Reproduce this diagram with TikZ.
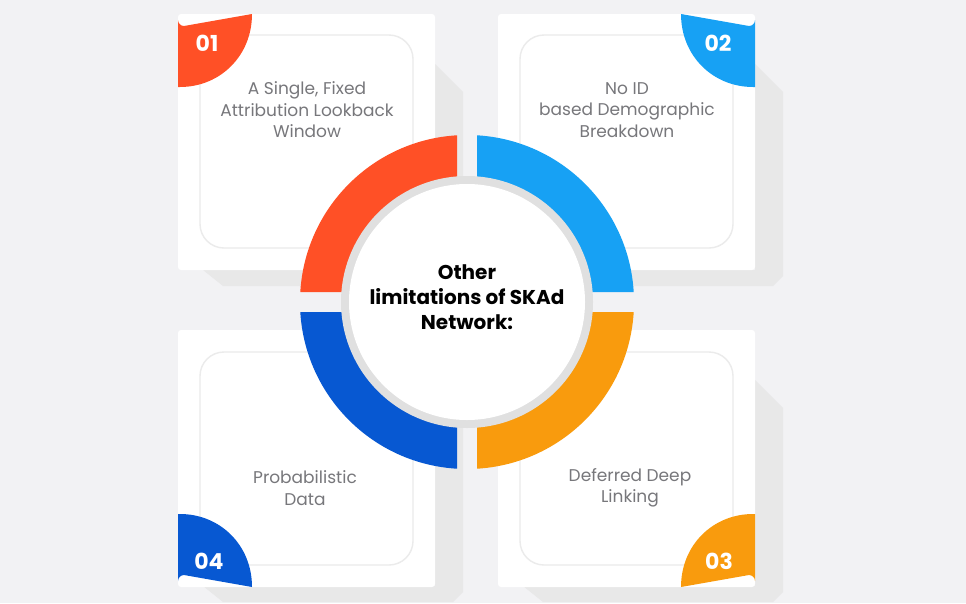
\documentclass[tikz,border=0pt]{standalone}
\usepackage{fontspec}
\setmainfont{Poppins}
\definecolor{bg}{HTML}{F2F2F4}
\definecolor{cred}{HTML}{FF5026}
\definecolor{cblue}{HTML}{17A1F4}
\definecolor{cdblue}{HTML}{0758D2}
\definecolor{corange}{HTML}{F99B0D}
\definecolor{txt}{HTML}{77777B}
\begin{document}
\begin{tikzpicture}[x=1pt,y=-1pt,
  card/.style={fill=white,rounded corners=3pt},
  inner/.style={draw=black!8,line width=1.4pt,rounded corners=24pt},
  shadow/.style={fill=black!9},
  lbl/.style={text=txt,font=\fontsize{17}{21.5}\selectfont,align=center},
  num/.style={text=white,font=\fontsize{22}{22}\selectfont\bfseries}]
\fill[bg] (0,0) rectangle (966,603);
\useasboundingbox (0,0) rectangle (966,603);
% shadows
\foreach \x/\y in {178/14,498/14,178/330,498/330}{
  \fill[shadow] (\x+257,\y+50) -- (\x+285,\y+78) -- (\x+285,\y+262) -- (\x+275,\y+272) -- (\x+45,\y+272) -- (\x+25,\y+256) -- (\x+257,\y+256) -- cycle;
}
% cards
\path[card] (178,14) rectangle (435,270) node[pos=0.5] (c1) {};
\path[card] (498,14) rectangle (755,270) node[pos=0.5] (c2) {};
\path[card] (178,330) rectangle (435,587) node[pos=0.5] (c4) {};
\path[card] (498,330) rectangle (755,587) node[pos=0.5] (c3) {};
\draw[inner] (200,35) rectangle (413,248);
\draw[inner] (520,35) rectangle (733,248);
\draw[inner] (200,352) rectangle (413,565);
\draw[inner] (520,352) rectangle (733,565);
% badges
\begin{scope}[shift={(178,14)}]
 \fill[cred] (0,73) -- (0,6) arc[start angle=180,end angle=90,radius=6] -- (74,0) .. controls (74,42) and (42,73) .. (2,73) -- cycle;
\end{scope}
\begin{scope}[shift={(755,14)},xscale=-1]
 \fill[cblue] (0,73) -- (0,6) arc[start angle=180,end angle=90,radius=6] -- (74,0) .. controls (74,42) and (42,73) .. (2,73) -- cycle;
\end{scope}
\begin{scope}[shift={(178,587)},yscale=-1]
 \fill[cdblue] (0,73) -- (0,6) arc[start angle=180,end angle=90,radius=6] -- (74,0) .. controls (74,42) and (42,73) .. (2,73) -- cycle;
\end{scope}
\begin{scope}[shift={(755,587)},xscale=-1,yscale=-1]
 \fill[corange] (0,73) -- (0,6) arc[start angle=180,end angle=90,radius=6] -- (74,0) .. controls (74,42) and (42,73) .. (2,73) -- cycle;
\end{scope}
\node[num] (n1) at (207,43) {01};
\node[num] (n2) at (718,43) {02};
\node[num] (n4) at (209,561) {04};
\node[num] (n3) at (719,561) {03};
% labels
\node[lbl] (t1) at (307,110) {A Single, Fixed\\Attribution Lookback\\Window};
\node[lbl] (t2) at (627,110) {No ID\\based Demographic\\Breakdown};
\node[lbl] (t4) at (305,488) {Probabilistic\\Data};
\node[lbl] (t3) at (630,488) {Deferred Deep\\Linking};
% ring
\coordinate (o) at (467,302);
\begin{scope}
 \clip[rounded corners=4pt] (290,125) rectangle (457,292);
 \fill[cred] (o) circle[radius=167];
\end{scope}
\begin{scope}
 \clip[rounded corners=4pt] (477,125) rectangle (644,292);
 \fill[cblue] (o) circle[radius=167];
\end{scope}
\begin{scope}
 \clip[rounded corners=4pt] (290,312) rectangle (457,479);
 \fill[cdblue] (o) circle[radius=167];
\end{scope}
\begin{scope}
 \clip[rounded corners=4pt] (477,312) rectangle (644,479);
 \fill[corange] (o) circle[radius=167];
\end{scope}
\fill[black!12] (o) circle[radius=126];
\fill[white] (o) circle[radius=118];
\node[font=\fontsize{20}{25}\selectfont\bfseries,align=center] (center) at (467,297) {Other\\limitations of SKAd\\Network:};
\end{tikzpicture}
\end{document}
